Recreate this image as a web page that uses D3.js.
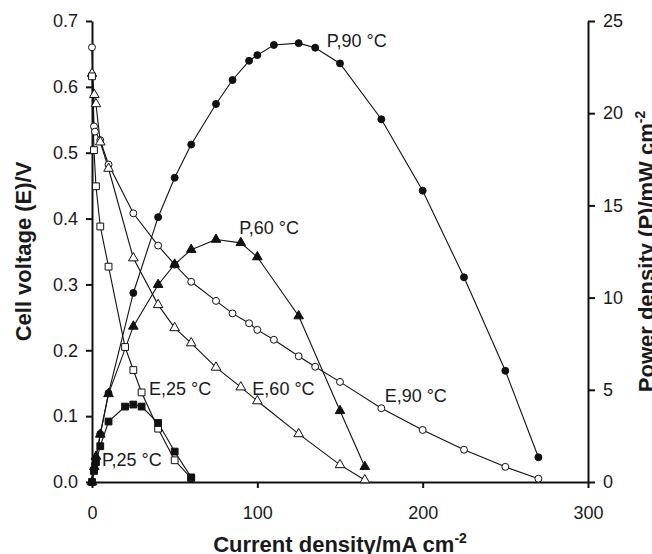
<!DOCTYPE html>
<html lang="en">
<head>
  <meta charset="UTF-8" />
  <title>Cell voltage and power density vs current density</title>
  <script src="https://d3js.org/d3.v7.min.js"></script>
  <style>
    body {
      margin: 0;
      padding: 0;
      background: #fff;
    }
    svg text {
      font-family: "Liberation Sans", Arial, sans-serif;
      fill: #1a1a1a;
    }
  </style>
</head>
<body>
  <div id="chart"></div>

  <script>
    // tick labels
    const xTicks = [0, 100, 200, 300];
    const eTicks = [0, 0.1, 0.2, 0.3, 0.4, 0.5, 0.6, 0.7];
    const pTicks = [0, 5, 10, 15, 20, 25];

    // 90 °C
    const current90 = [0, 1.2, 1.8, 5, 10, 25, 40, 50, 60, 75, 85, 95, 100, 110, 125, 135, 150, 175, 200, 225, 250, 270];
    const voltage90 = [0.66, 0.54, 0.532, 0.519, 0.482, 0.408, 0.359, 0.33, 0.304, 0.275, 0.256, 0.241, 0.231, 0.216, 0.191, 0.175, 0.152, 0.112, 0.079, 0.049, 0.023, 0.005];
    const power90 = [0, 0.65, 0.96, 2.6, 4.82, 10.25, 14.36, 16.5, 18.3, 20.5, 21.8, 22.84, 23.15, 23.7, 23.8, 23.55, 22.7, 19.67, 15.8, 11.1, 6.03, 1.34];

    // 60 °C
    const current60 = [0, 1.4, 2.4, 5, 10, 25, 40, 50, 60, 75, 90, 100, 125, 150, 165];
    const voltage60 = [0.62, 0.588, 0.574, 0.516, 0.476, 0.34, 0.269, 0.234, 0.211, 0.174, 0.144, 0.123, 0.073, 0.026, 0.003];
    const power60 = [0, 0.82, 1.38, 2.58, 4.78, 8.44, 10.7, 11.8, 12.6, 13.15, 12.97, 12.2, 9.0, 3.86, 0.83];

    // 25 °C
    const current25 = [0, 1.2, 2.4, 5, 10, 20, 25, 30, 40, 50, 60];
    const voltage25 = [0.616, 0.504, 0.449, 0.388, 0.327, 0.205, 0.17, 0.136, 0.081, 0.033, 0.006];
    const power25 = [0, 0.6, 1.08, 1.94, 3.28, 4.09, 4.2, 4.09, 3.2, 1.65, 0.25];

    // curve labels: text, current, voltage (left axis units)
    const labels = [
      ["P,90 °C", 142, 0.66],
      ["P,60 °C", 89, 0.376],
      ["E,25 °C", 34.5, 0.132],
      ["E,60 °C", 97, 0.132],
      ["E,90 °C", 177, 0.121],
      ["P,25 °C", 6, 0.024]
    ];

    const W = 652, H = 554;
    const svg = d3.select("#chart").append("svg")
      .attr("width", W)
      .attr("height", H);

    const x = d3.scaleLinear().domain([0, 300]).range([92, 588]);
    const yE = d3.scaleLinear().domain([0, 0.7]).range([482, 21]);
    const yP = d3.scaleLinear().domain([0, 25]).range([482, 21]);

    function styleAxis(g) {
      g.attr("font-size", 18).attr("font-family", null);
      g.select(".domain").attr("stroke", "#111").attr("stroke-width", 2);
      g.selectAll(".tick line").attr("stroke", "#111").attr("stroke-width", 2);
      g.selectAll(".tick text").attr("fill", "#1a1a1a");
    }

    svg.append("g")
      .attr("transform", `translate(0,${yE(0)})`)
      .call(d3.axisBottom(x).tickValues(xTicks).tickSize(6).tickSizeOuter(0).tickPadding(18))
      .call(styleAxis);

    svg.append("g")
      .attr("transform", `translate(${x(0)},0)`)
      .call(d3.axisLeft(yE).tickValues(eTicks).tickFormat(d3.format(".1f")).tickSize(6).tickSizeOuter(0).tickPadding(8))
      .call(styleAxis);

    svg.append("g")
      .attr("transform", `translate(${x(300)},0)`)
      .call(d3.axisRight(yP).tickValues(pTicks).tickSize(7).tickSizeOuter(0).tickPadding(8))
      .call(styleAxis);

    // series
    const series = [
      { xs: current90, ys: voltage90, y: yE, sym: d3.symbolCircle, size: 38, filled: false },
      { xs: current60, ys: voltage60, y: yE, sym: d3.symbolTriangle, size: 40, filled: false },
      { xs: current25, ys: voltage25, y: yE, sym: d3.symbolSquare, size: 46, filled: false },
      { xs: current90, ys: power90, y: yP, sym: d3.symbolCircle, size: 38, filled: true },
      { xs: current60, ys: power60, y: yP, sym: d3.symbolTriangle, size: 40, filled: true },
      { xs: current25, ys: power25, y: yP, sym: d3.symbolSquare, size: 46, filled: true }
    ];

    series.forEach((s) => {
      const pts = s.xs.map((v, i) => [x(v), s.y(s.ys[i])]);
      svg.append("path")
        .attr("d", d3.line()(pts))
        .attr("fill", "none")
        .attr("stroke", "#111")
        .attr("stroke-width", 1.1);
      s.pts = pts;
    });

    series.forEach((s) => {
      svg.append("g")
        .selectAll("path")
        .data(s.pts)
        .enter()
        .append("path")
        .attr("transform", (d) => `translate(${d[0]},${d[1]})`)
        .attr("d", d3.symbol().type(s.sym).size(s.size))
        .attr("fill", s.filled ? "#111" : "#fff")
        .attr("stroke", "#111")
        .attr("stroke-width", 1);
    });

    // curve labels
    svg.selectAll(".curve-label")
      .data(labels)
      .enter()
      .append("text")
      .attr("class", "curve-label")
      .attr("x", (d) => x(d[1]))
      .attr("y", (d) => yE(d[2]))
      .style("font-size", "18px")
      .text((d) => d[0]);

    // axis titles
    const xTitle = svg.append("text")
      .attr("x", (x(0) + x(300)) / 2)
      .attr("y", 552)
      .attr("text-anchor", "middle")
      .style("font-size", "22px")
      .style("font-weight", "bold");
    xTitle.append("tspan").text("Current density/mA cm");
    xTitle.append("tspan").attr("dy", -9).style("font-size", "14px").text("-2");

    svg.append("text")
      .attr("transform", `translate(30.5,${(yE(0) + yE(0.7)) / 2}) rotate(-90)`)
      .attr("text-anchor", "middle")
      .style("font-size", "22px")
      .style("font-weight", "bold")
      .text("Cell voltage (E)/V");

    const pTitle = svg.append("text")
      .attr("transform", `translate(653.5,${(yP(0) + yP(25)) / 2}) rotate(-90)`)
      .attr("text-anchor", "middle")
      .style("font-size", "22px")
      .style("font-weight", "bold");
    pTitle.append("tspan").text("Power density (P)/mW cm");
    pTitle.append("tspan").attr("dy", -9).style("font-size", "14px").text("-2");
  </script>
</body>
</html>
